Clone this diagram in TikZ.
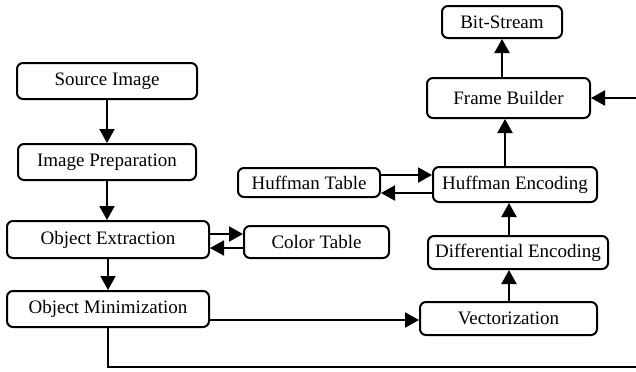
\documentclass[tikz,border=0pt]{standalone}
\usepackage{fontspec}
\setmainfont{Liberation Serif}
\usetikzlibrary{arrows.meta}
\begin{document}
\begin{tikzpicture}[x=0.5pt,y=-0.5pt,
  box/.style={draw,line width=1pt,rounded corners=3pt,inner sep=0pt,font=\fontsize{9.5pt}{11pt}\selectfont},
  arr/.style={line width=1pt,-{Triangle[length=7pt,width=7.5pt]}},
  ln/.style={line width=1pt}]
\useasboundingbox (0,0) rectangle (636,371);
\node[box,minimum width=90pt,minimum height=18pt] (src) at (107,81) {Source Image};
\node[box,minimum width=89pt,minimum height=18pt] (prep) at (107,162) {Image Preparation};
\node[box,minimum width=101pt,minimum height=18.5pt] (ext) at (108,239.5) {Object Extraction};
\node[box,minimum width=101pt,minimum height=18pt] (min) at (108,309) {Object Minimization};
\node[box,minimum width=72.5pt,minimum height=16pt] (color) at (316.5,242) {Color Table};
\node[box,minimum width=60pt,minimum height=16pt] (bit) at (502,22) {Bit-Stream};
\node[box,minimum width=81.5pt,minimum height=20pt] (frame) at (508.5,98) {Frame Builder};
\node[box,minimum width=71pt,minimum height=14.5pt] (htab) at (309,182.5) {Huffman Table};
\node[box,minimum width=82pt,minimum height=17.5pt] (henc) at (515,184.5) {Huffman Encoding};
\node[box,minimum width=90pt,minimum height=16.5pt] (diff) at (518,252.5) {Differential Encoding};
\node[box,minimum width=88.5pt,minimum height=16.5pt] (vec) at (508.5,318.5) {Vectorization};
\coordinate (c1) at (108,367);
\coordinate (c2) at (645,367);
\coordinate (c3) at (645,98);
\draw[arr] (src) -- (prep);
\draw[arr] (prep) -- (prep |- ext.north);
\draw[arr] (ext) -- (min);
\draw[arr] (ext.east |- 0,234) -- (color.west |- 0,234);
\draw[arr] (color.west |- 0,248) -- (ext.east |- 0,248);
\draw[arr] (htab.east |- 0,175) -- (henc.west |- 0,175);
\draw[arr] (henc.west |- 0,193) -- (htab.east |- 0,193);
\draw[arr] (henc.north -| 505,0) -- (frame.south -| 505,0);
\draw[arr] (frame.north -| 502,0) -- (bit.south -| 502,0);
\draw[arr] (diff.north -| 509,0) -- (henc.south -| 509,0);
\draw[arr] (vec.north -| 509,0) -- (diff.south -| 509,0);
\draw[arr] (min.east |- 0,320) -- (vec.west |- 0,320);
\draw[ln] (min.south) -- (c1) -- (c2) -- (c3);
\draw[arr] (c3) -- (frame.east);
\end{tikzpicture}
\end{document}
